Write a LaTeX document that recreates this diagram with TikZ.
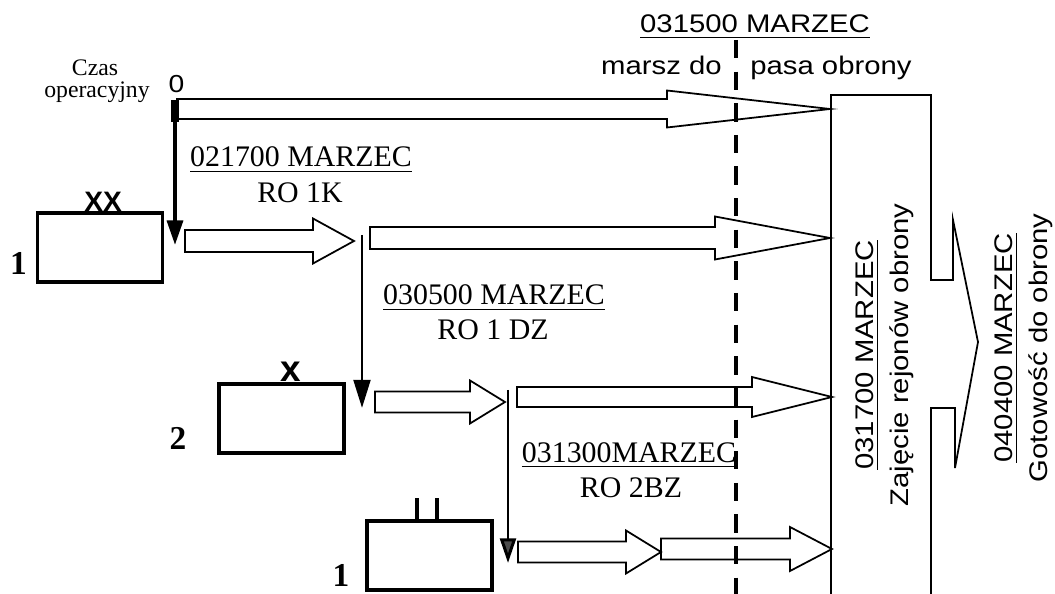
\documentclass[tikz,border=0pt]{standalone}
\usepackage{fontspec}
\setmainfont{Liberation Serif}
\newfontfamily\sfwide[FakeStretch=1.15]{Liberation Sans}
\newfontfamily\sfplain{Liberation Sans}
\usepackage{tikz}
\usetikzlibrary{arrows.meta, calc}

% underlined label (thicker rule than \underline)
\newcommand{\ultext}[1]{\setbox0=\hbox{#1}\rlap{\vrule height -2pt depth 3pt width \wd0}\box0}
% hollow block arrow: start, tip, head length, shaft half, head half
\newcommand{\blockarrow}[5]{%
  \draw[hollow] ($(#1|-#2)+(0,-#4)$) -- ($(#2)+(-#3,-#4)$) -- ($(#2)+(-#3,-#5)$) -- (#2)
    -- ($(#2)+(-#3,#5)$) -- ($(#2)+(-#3,#4)$) -- ($(#1|-#2)+(0,#4)$) -- cycle;}

\tikzset{
  unitbox/.style={draw, line width=2.2pt, minimum width=2.5cm, minimum height=1.38cm, inner sep=0pt},
  hollow/.style={draw, line width=1pt, line join=miter},
  serlabel/.style={font=\fontsize{17}{20}\selectfont, anchor=base, inner sep=0pt},
  sanslabel/.style={font=\sfwide\fontsize{14.5}{17}\selectfont, inner sep=0pt},
  unitnum/.style={font=\fontsize{19}{22}\selectfont\bfseries, anchor=base, inner sep=0pt},
  unitsign/.style={font=\sfplain\bfseries\fontsize{#1}{#1}\selectfont, anchor=base, inner sep=0pt},
}

\begin{document}
\begin{tikzpicture}[x=0.02cm, y=-0.02cm]
  \useasboundingbox (0,0) rectangle (1055,594);
  % units
  \node[unitbox] (dyw) at (100,247.5) {};
  \node[unitbox] (bryg) at (281.5,418.5) {};
  \node[unitbox] (bat) at (429.5,555.5) {};
  \node[unitsign=16] (dywsign) at ($(dyw.north)+(3,0)$) {XX};
  \node[unitsign=21] (brygsign) at ($(bryg.north)+(9.5,-1)$) {x};
  \draw[line width=2.5pt] ($(bat.north)+(-12.5,0)$) -- ++(0,-21);
  \draw[line width=2.5pt] ($(bat.north)+(7.5,0)$) -- ++(0,-21);
  \node[unitnum] (n1) at (18.5,275) {1};
  \node[unitnum] (n2) at (178,450) {2};
  \node[unitnum] (n3) at (341,586) {1};
  % time axis
  \node[font=\fontsize{13.5}{16}\selectfont, anchor=base, inner sep=0pt] (czas) at (95,76) {Czas};
  \node[font=\fontsize{13.5}{16}\selectfont, anchor=base, inner sep=0pt] (oper) at (97,98) {operacyjny};
  \node[font=\sfwide\fontsize{14}{16}\selectfont, anchor=base, inner sep=0pt] (zero) at (176.5,93) {0};
  \coordinate (t0) at (175,100); \coordinate (t0e) at (175,245);
  \coordinate (t1) at (362,235); \coordinate (t1e) at (362,408);
  \coordinate (t2) at (508,390); \coordinate (t2e) at (508,563);
  \draw[line width=4.5pt] (t0) -- ++(0,22);
  \draw[line width=2.2pt, -{Triangle[length=14pt, width=9pt]}] (t0) -- (t0e);
  \draw[line width=1.7pt, -{Triangle[length=16pt, width=9.5pt]}] (t1) -- (t1e);
  \draw[line width=1.7pt, -{Triangle[length=14pt, width=9pt, fill=black!70]}] (t2) -- (t2e);
  % block arrows
  \coordinate (a0s) at (177,109); \coordinate (a0e) at (830,109);
  \coordinate (a1s) at (185,241); \coordinate (a1e) at (354,241);
  \coordinate (a2s) at (370,238); \coordinate (a2e) at (830,238);
  \coordinate (a3s) at (375,402); \coordinate (a3e) at (505,402);
  \coordinate (a4s) at (517,397); \coordinate (a4e) at (832,397);
  \coordinate (a5s) at (518,552); \coordinate (a5e) at (661,552);
  \coordinate (a6s) at (661,549); \coordinate (a6e) at (832,549);
  \blockarrow{a0s}{a0e}{163}{10}{18.5}
  \blockarrow{a1s}{a1e}{41}{11}{22.5}
  \blockarrow{a2s}{a2e}{115}{11}{21.5}
  \blockarrow{a3s}{a3e}{35}{10.5}{21.5}
  \blockarrow{a4s}{a4e}{80}{10}{20}
  \blockarrow{a5s}{a5e}{35}{10.5}{21.5}
  \blockarrow{a6s}{a6e}{42}{10.5}{22}
  % labels on the axis
  \node[serlabel] (d1) at (301,167) {\ultext{021700 MARZEC}};
  \node[serlabel] (r1) at (300,203) {RO 1K};
  \node[serlabel] (d2) at (494,305) {\ultext{030500 MARZEC}};
  \node[serlabel] (r2) at (493,340) {RO 1 DZ};
  \node[serlabel] (d3) at (629,462) {\ultext{031300MARZEC}};
  \node[serlabel] (r3) at (631,498) {RO 2BZ};
  % defence area
  \draw[hollow] (831,594) -- (831,95) -- (931,95) -- (931,280) -- (953,280) -- (953,220)
    -- (978,342) -- (955,468) -- (955,408) -- (931,408) -- (931,594);
  \node[sanslabel, rotate=90, anchor=base] (zajd) at (873,355) {\ultext{031700 MARZEC}};
  \node[sanslabel, rotate=90, anchor=base] (zajo) at (908,355) {Zajęcie rejonów obrony};
  \node[sanslabel, rotate=90, anchor=base] (gotd) at (1012,348) {\ultext{040400 MARZEC}};
  \node[sanslabel, rotate=90, anchor=base] (goto) at (1047,348) {Gotowość do obrony};
  % march line
  \node[sanslabel, anchor=base] (marzec) at (755,33) {\ultext{031500 MARZEC}};
  \node[sanslabel, anchor=base east] (marsz) at (722,75) {marsz do};
  \node[sanslabel, anchor=base west] (pas) at (750,75) {pasa obrony};
  \coordinate (m0) at (736,40); \coordinate (m1) at (736,594);
  \draw[line width=2.4pt, dash pattern=on 10.4pt off 7.6pt] (m0) -- (m1);
\end{tikzpicture}
\end{document}
